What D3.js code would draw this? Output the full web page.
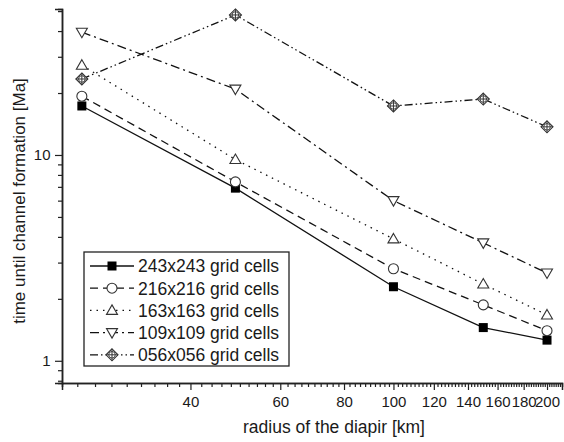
<!DOCTYPE html>
<html>
<head>
<meta charset="utf-8">
<script src="https://cdn.jsdelivr.net/npm/d3@7"></script>
<style>
  body { margin: 0; background: #fff; }
  svg text { font-family: "Liberation Sans", Arial, sans-serif; fill: #1a1a1a; }
</style>
</head>
<body>
<div id="chart"></div>
<script>
// datos
const radius = [24.5, 49, 100, 150, 200];
const seriesNames = ['243x243 grid cells', '216x216 grid cells', '163x163 grid cells', '109x109 grid cells', '056x056 grid cells'];
const s243 = [17.3, 6.9, 2.29, 1.45, 1.26];
const s216 = [19.3, 7.4, 2.80, 1.87, 1.40];
const s163 = [27.3, 9.5, 3.91, 2.36, 1.67];
const s109 = [39.5, 20.9, 6.0, 3.74, 2.67];
const s056 = [23.4, 47.9, 17.3, 18.7, 13.7];
const xMajorTicks = [40, 60, 80, 100, 120, 140, 160, 180, 200];
const yMajorTicks = [1, 10];

const width = 564, height = 442;
const margin = { left: 62, right: 2, top: 9, bottom: 59 };

const svg = d3.select('#chart').append('svg')
  .attr('width', width)
  .attr('height', height);

// escalas logaritmicas
const x = d3.scaleLog().domain([22.4, 214]).range([margin.left, width - margin.right]);
const y = d3.scaleLog().domain([0.78, 51.2]).range([height - margin.bottom, margin.top]);

const xMinor = d3.range(24, 214, 2).filter(v => !xMajorTicks.includes(v));
const yMinor = [0.8, 0.9, 2, 3, 4, 5, 6, 7, 8, 9, 20, 30, 40, 50];

// ejes
const gx = svg.append('g').attr('transform', `translate(0,${height - margin.bottom})`);
gx.call(d3.axisBottom(x).tickValues(xMinor).tickSize(4).tickFormat(''));
gx.call(g => g.append('g').call(d3.axisBottom(x).tickValues(xMajorTicks).tickSize(7).tickFormat(d3.format('d'))));
gx.selectAll('.domain').attr('stroke-width', 1.5);
gx.selectAll('line').attr('stroke', '#222').attr('stroke-width', 1.2);
gx.selectAll('text').attr('font-size', 15).attr('dy', '0.95em');

const gy = svg.append('g').attr('transform', `translate(${margin.left},0)`);
gy.call(d3.axisLeft(y).tickValues(yMinor).tickSize(4).tickFormat(''));
gy.call(g => g.append('g').call(d3.axisLeft(y).tickValues(yMajorTicks).tickSize(7).tickFormat(d3.format('d'))));
gy.selectAll('.domain').attr('stroke-width', 1.5);
gy.selectAll('line').attr('stroke', '#222').attr('stroke-width', 1.2);
gy.selectAll('text').attr('font-size', 15).attr('dx', '-0.1em');
svg.selectAll('.domain').attr('stroke', '#222');

// titulos de ejes
svg.append('text')
  .attr('x', 334)
  .attr('y', 433)
  .attr('text-anchor', 'middle')
  .attr('font-size', 17.5)
  .text('radius of the diapir [km]');

svg.append('text')
  .attr('transform', 'translate(25,201) rotate(-90)')
  .attr('text-anchor', 'middle')
  .attr('font-size', 17)
  .text('time until channel formation [Ma]');

// estilos de las series
const styles = [
  { values: s243, dash: null, marker: 'square' },
  { values: s216, dash: '8,5', marker: 'circle' },
  { values: s163, dash: '1.5,5', marker: 'triUp' },
  { values: s109, dash: '9,4,2,4', marker: 'triDown' },
  { values: s056, dash: '8,3,1.5,3,1.5,3', marker: 'diamond' }
];

const drawMarker = (g, type, cx, cy) => {
  const stroke = '#333';
  if (type === 'square') {
    g.append('rect').attr('x', cx - 4.5).attr('y', cy - 4.5).attr('width', 9).attr('height', 9)
      .attr('fill', '#000');
  } else if (type === 'circle') {
    g.append('circle').attr('cx', cx).attr('cy', cy).attr('r', 5)
      .attr('fill', '#fff').attr('stroke', stroke).attr('stroke-width', 1.1);
  } else if (type === 'triUp') {
    g.append('path').attr('d', `M${cx},${cy - 5.5}L${cx + 5.5},${cy + 4}L${cx - 5.5},${cy + 4}Z`)
      .attr('fill', '#fff').attr('stroke', stroke).attr('stroke-width', 1.1);
  } else if (type === 'triDown') {
    g.append('path').attr('d', `M${cx},${cy + 5.5}L${cx + 5.5},${cy - 4}L${cx - 5.5},${cy - 4}Z`)
      .attr('fill', '#fff').attr('stroke', stroke).attr('stroke-width', 1.1);
  } else if (type === 'diamond') {
    g.append('path').attr('d', `M${cx},${cy - 6}L${cx + 6},${cy}L${cx},${cy + 6}L${cx - 6},${cy}Z`)
      .attr('fill', '#fff').attr('stroke', stroke).attr('stroke-width', 1.1);
    g.append('path').attr('d', `M${cx},${cy - 6}V${cy + 6}M${cx - 6},${cy}H${cx + 6}`)
      .attr('stroke', stroke).attr('stroke-width', 1);
    g.append('circle').attr('cx', cx).attr('cy', cy).attr('r', 3.3)
      .attr('fill', 'none').attr('stroke', stroke).attr('stroke-width', 0.9);
  }
};

const line = d3.line().x((d, i) => x(radius[i])).y(d => y(d));

styles.forEach(s => {
  const g = svg.append('g');
  g.append('path')
    .datum(s.values)
    .attr('d', line)
    .attr('fill', 'none')
    .attr('stroke', '#111')
    .attr('stroke-width', 1.3)
    .attr('stroke-dasharray', s.dash);
  s.values.forEach((v, i) => drawMarker(g, s.marker, x(radius[i]), y(v)));
});

// leyenda
const legend = svg.append('g');
legend.append('rect')
  .attr('x', 84).attr('y', 252).attr('width', 205).attr('height', 114)
  .attr('fill', '#fff').attr('stroke', '#222').attr('stroke-width', 1.3);

styles.forEach((s, i) => {
  const ly = 266 + i * 22.2;
  legend.append('line')
    .attr('x1', 90).attr('x2', 134).attr('y1', ly).attr('y2', ly)
    .attr('stroke', '#111').attr('stroke-width', 1.3)
    .attr('stroke-dasharray', s.dash);
  drawMarker(legend, s.marker, 112, ly);
  legend.append('text')
    .attr('x', 138).attr('y', ly)
    .attr('dy', '0.36em')
    .attr('font-size', 17.5)
    .text(seriesNames[i]);
});
</script>
</body>
</html>
